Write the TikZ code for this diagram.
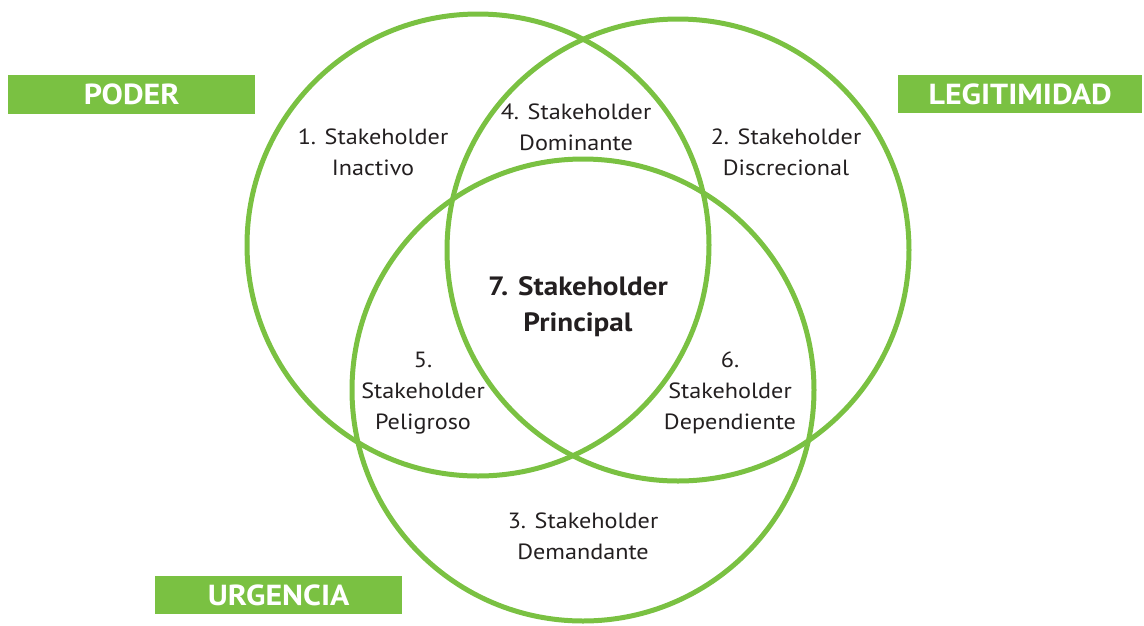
\documentclass[tikz,border=0pt]{standalone}
\usepackage{fontspec}
\setmainfont{PT Sans}[FakeStretch=1.1]
\definecolor{vgreen}{RGB}{122,193,66}
\definecolor{txt}{RGB}{35,31,32}
\begin{document}
\begin{tikzpicture}[x=1pt,y=-1pt,
  ring/.style={circle,draw=vgreen,line width=5pt,minimum size=462pt,inner sep=0pt},
  lbl/.style={align=center,text=txt,font=\fontsize{22}{31}\selectfont,inner sep=0pt},
  mainlbl/.style={align=center,text=txt,font=\fontsize{26.5}{36}\selectfont\bfseries,inner sep=0pt},
  tag/.style={fill=vgreen,text=white,font=\fontsize{29}{30}\selectfont\bfseries,inner sep=0pt,anchor=north west}
]
\useasboundingbox (0,0) rectangle (1144,625);
\node[ring] (poder) at (478,245) {};
\node[ring] (legit) at (678,250) {};
\node[ring] (urg) at (583,390) {};
\node[tag,minimum width=247pt,minimum height=39pt] (tpoder) at (8,75) {PODER};
\node[tag,minimum width=244pt,minimum height=38pt] (tlegit) at (898,75) {LEGITIMIDAD};
\node[tag,minimum width=247pt,minimum height=38pt] (turg) at (155,576) {URGENCIA};
\node[lbl] (s1) at (373,152) {1. Stakeholder\\Inactivo};
\node[lbl] (s4) at (576,127) {4. Stakeholder\\Dominante};
\node[lbl] (s2) at (786,152) {2. Stakeholder\\Discrecional};
\node[mainlbl] (s7) at (578,307) {7. Stakeholder\\Principal};
\node[lbl] (s5) at (423,393) {5.\\Stakeholder\\Peligroso};
\node[lbl] (s6) at (730,393) {6.\\Stakeholder\\Dependiente};
\node[lbl] (s3) at (583,536) {3. Stakeholder\\Demandante};
\end{tikzpicture}
\end{document}
